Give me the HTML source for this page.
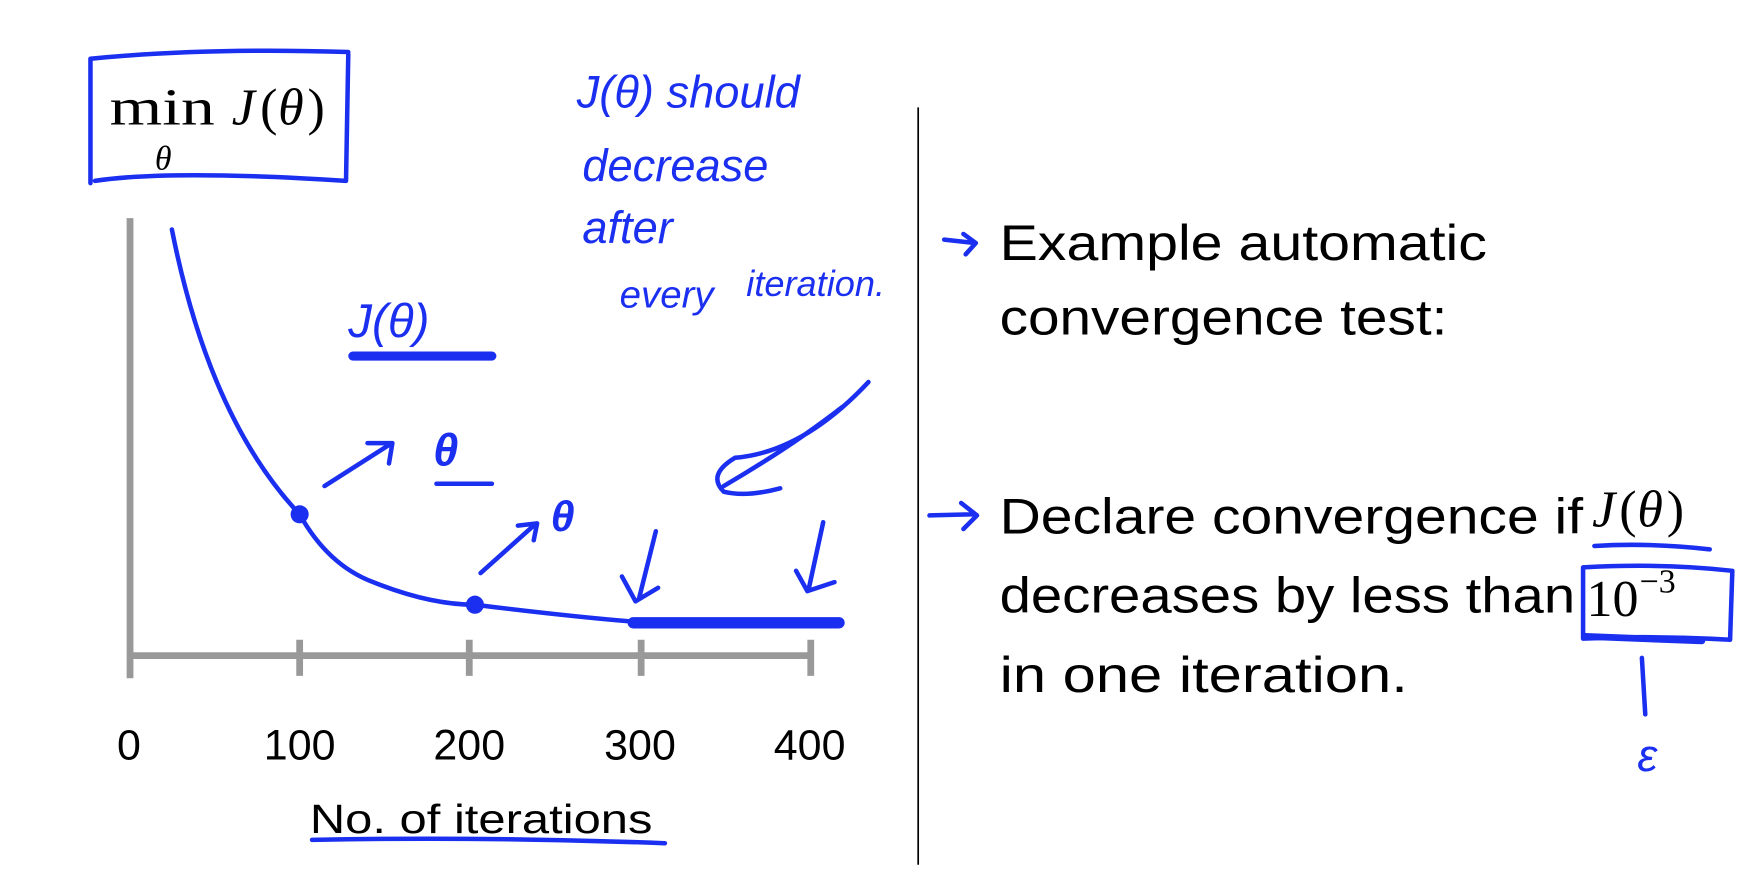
<!DOCTYPE html>
<html><head><meta charset="utf-8"><style>html,body{margin:0;padding:0;background:#fff;overflow:hidden}</style></head>
<body>
<svg width="1764" height="876" viewBox="0 0 1560 775" preserveAspectRatio="none" xmlns="http://www.w3.org/2000/svg">
<rect width="1560" height="775" fill="#fff"/>
<g stroke="#999" stroke-width="6" fill="none">
<line x1="115" y1="193" x2="115" y2="600"/>
<line x1="115" y1="580" x2="718" y2="580"/>
<line x1="265" y1="566" x2="265" y2="598"/>
<line x1="415" y1="566" x2="415" y2="598"/>
<line x1="567" y1="566" x2="567" y2="598"/>
<line x1="717" y1="566" x2="717" y2="598"/>
</g>
<g font-family="Liberation Sans, sans-serif" font-size="38" fill="#000" text-anchor="middle">
<text x="114" y="672">0</text><text x="265" y="672">100</text><text x="415" y="672">200</text><text x="566" y="672">300</text><text x="716" y="672">400</text>
</g>
<text x="274" y="737" font-family="Liberation Sans, sans-serif" font-size="36" textLength="303" lengthAdjust="spacingAndGlyphs">No. of iterations</text>
<line x1="812" y1="95" x2="812" y2="765" stroke="#000" stroke-width="1.5"/>
<g font-family="Liberation Sans, sans-serif" font-size="44" fill="#000" lengthAdjust="spacingAndGlyphs">
<text x="884" y="230" textLength="431" lengthAdjust="spacingAndGlyphs">Example automatic</text>
<text x="884" y="296" textLength="396" lengthAdjust="spacingAndGlyphs">convergence test:</text>
<text x="884" y="472" textLength="516" lengthAdjust="spacingAndGlyphs">Declare convergence if</text>
<text x="884" y="542" textLength="509" lengthAdjust="spacingAndGlyphs">decreases by less than</text>
<text x="884" y="612" textLength="361" lengthAdjust="spacingAndGlyphs">in one iteration.</text>
</g>
<g font-family="Liberation Serif, serif" font-size="46" fill="#000">
<text x="1408" y="466" font-style="italic">J</text><text x="1432" y="466">(</text><text x="1448" y="466" font-style="italic">θ</text><text x="1474" y="466">)</text>
<text x="1403" y="545">10</text><text x="1450" y="524" font-size="30">−3</text>
<text x="97" y="110" textLength="93" lengthAdjust="spacingAndGlyphs">min</text><text x="137" y="150" font-size="30" font-style="italic">θ</text>
<text x="205" y="110" font-style="italic">J</text><text x="230" y="110">(</text><text x="246" y="110" font-style="italic">θ</text><text x="272" y="110">)</text>
</g>
<g stroke="#1a2ff0" fill="none" stroke-width="4" stroke-linecap="round" stroke-linejoin="round">
<path d="M80 52 L80 162 M84 160 Q150 150 306 160 M306 160 L308 48 M80 52 Q180 42 308 46"/>
<path d="M152 203 Q185 370 265 455 Q290 500 330 515 Q380 535 420 535 Q500 545 560 550 L740 550"/>
<path d="M560 551 L742 551" stroke-width="10"/>
<path d="M276 743 Q430 740 588 746" />
<path d="M312 315 L435 315" stroke-width="8"/>
<path d="M386 428 L435 428"/>
<path d="M287 430 L345 393 M325 392 L347 392 L344 410"/>
<path d="M425 507 L472 465 M458 465 L475 463 L472 478"/>
<path d="M768 338 Q710 400 650 405 Q625 420 640 435 Q660 440 690 432 M640 430 Q700 395 745 360"/>
<path d="M580 470 L565 530 M550 510 L562 532 L582 520"/>
<path d="M728 462 L715 522 M704 505 L714 523 L738 515"/>
<path d="M835 212 L862 215 M852 207 L863 215 L854 225"/>
<path d="M822 456 L862 455 M850 445 L864 456 L852 468"/>
<path d="M1410 483 Q1460 480 1512 486"/>
<path d="M1400 502 L1400 565 Q1460 562 1530 566 L1532 505 Q1470 498 1400 502"/>
<path d="M1402 563 L1505 567" stroke-width="6"/>
<path d="M1452 582 L1455 632"/>
</g>
<g fill="#1a2ff0"><circle cx="265" cy="455" r="8"/><circle cx="420" cy="535" r="8"/></g>
<g font-family="Liberation Sans, sans-serif" fill="#1a2ff0" font-style="italic">
<text x="510" y="95" font-size="40">J(θ) should</text>
<text x="515" y="160" font-size="40">decrease</text>
<text x="515" y="215" font-size="40">after</text>
<text x="548" y="272" font-size="34">every</text>
<text x="660" y="262" font-size="32">iteration.</text>
<text x="308" y="298" font-size="42">J(θ)</text>
<text x="383" y="412" font-size="40" font-weight="bold">θ</text>
<text x="487" y="470" font-size="38" font-weight="bold">θ</text>
<text x="1448" y="682" font-size="40">ε</text>
</g>
</svg>
</body></html>
